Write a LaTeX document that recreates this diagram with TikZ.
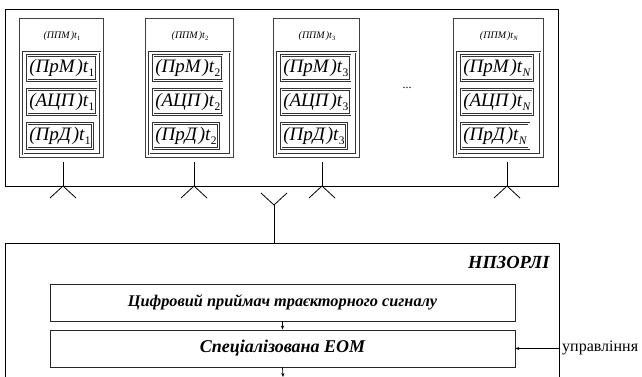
\documentclass[tikz,border=0pt]{standalone}
\usepackage{fontspec}
\setmainfont{Liberation Serif}
\usetikzlibrary{arrows.meta}
\newcommand{\subl}[2]{\textit{(#1\kern0.1em)t}\raisebox{-0.4ex}{\fontsize{11.5}{12}\selectfont #2}}
\newcommand{\ttl}[1]{\textit{(ППМ\kern0.1em)t}\raisebox{-0.4ex}{\fontsize{6.5}{7}\selectfont #1}}
\begin{document}
\begin{tikzpicture}[x=1pt,y=-1pt,
  ln/.style={draw=black, line width=0.8pt},
  modbox/.style={draw=black!75, line width=0.9pt, inner sep=0pt},
  dbl/.style={draw=black!80, double=white, double distance=1.1pt, line width=0.5pt},
  frame/.style={dbl, inner sep=0pt},
  subbox/.style={dbl, anchor=west, inner xsep=2pt, inner ysep=0pt, minimum height=25pt,
    font=\fontsize{19}{19}\selectfont},
  ttlfont/.style={font=\fontsize{10}{10}\selectfont},
  bigbox/.style={draw=black!85, line width=0.8pt, inner sep=0pt},
  arr/.style={draw=black, line width=0.7pt, -{Stealth[length=4pt,width=3.2pt]}}]
\useasboundingbox (0,0) rectangle (642,377);
% upper frame
\node[ln, inner sep=0pt, anchor=north west, minimum width=553pt, minimum height=177pt] (top) at (5,9) {};
\foreach \L/\W/\S/\n/\s in {19/84/63/1/1, 145/88/194/2/2, 273/86/322/3/3, 453/90/507/N/\textit{N}}{
  \node[modbox, anchor=north west, minimum width=\W, minimum height=139] (m\n) at (\L,18) {};
  \node[ttlfont] (t\n) at (\L+\W/2+1,36) {\ttl{\s}};
  \node[frame, anchor=north west, minimum width=\W-7, minimum height=102] (f\n) at (\L+4,52) {};
  \node[subbox] (p\n) at (\L+8,68) {\subl{ПрМ}{\s}};
  \node[subbox] (a\n) at (\L+8,102) {\subl{АЦП}{\s}};
  \node[subbox] (d\n) at (\L+8,136) {\subl{ПрД}{\s}};
  \coordinate (st\n) at (\S,162);
  \coordinate (an\n) at (\S,186);
  \draw[ln] (st\n) -- (an\n);
  \draw[ln] (an\n) -- ++(-13,12);
  \draw[ln] (an\n) -- ++(13,12);
}
\node[font=\fontsize{12}{12}\selectfont] (dots) at (407,88) {...};
% central antenna
\coordinate (ca) at (274,205);
\coordinate (lt) at (274,243);
\draw[ln] (ca) -- (lt);
\draw[ln] (ca) -- ++(-13,-12);
\draw[ln] (ca) -- ++(13,-12);
% lower frame (cut by the page edge)
\coordinate (l1) at (5,377);
\coordinate (l2) at (5,243);
\coordinate (l3) at (559,243);
\coordinate (l4) at (559,377);
\draw[ln] (l1) -- (l2) -- (l3) -- (l4);
\node[anchor=east, font=\fontsize{18.5}{18.5}\selectfont\bfseries\itshape] (np) at (553,262) {НПЗОРЛІ};
\node[bigbox, minimum width=465pt, minimum height=37pt, font=\fontsize{16.3}{16.3}\selectfont\bfseries\itshape] (b1) at (282.5,302.5) {Цифровий приймач траєкторного сигналу};
\node[bigbox, minimum width=465pt, minimum height=37pt, font=\fontsize{18}{18}\selectfont\bfseries\itshape] (b2) at (282.5,348.5) {Спеціалізована ЕОМ};
\coordinate (bot) at (283,377);
\draw[arr] (b1.south) -- (b2.north);
\draw[arr] (b2.south) -- (bot);
\node[anchor=west, inner sep=0pt, font=\fontsize{16}{16}\selectfont] (up) at (562,348) {управління};
\coordinate (ue) at (558.5,348.5);
\draw[arr] (ue) -- (b2.east);
\end{tikzpicture}
\end{document}
